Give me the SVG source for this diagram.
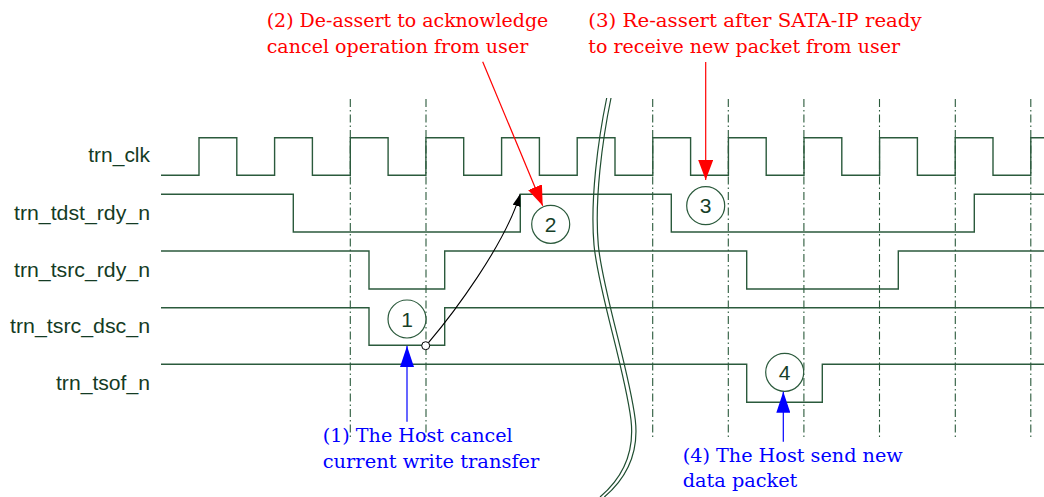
<svg xmlns="http://www.w3.org/2000/svg" width="1044" height="497" viewBox="0 0 1044 497">
<style>
  .bg { fill: #ffffff; }
  .sig { fill: none; stroke: #2b5a3c; stroke-width: 1.4; stroke-linejoin: miter; }
  .grid { fill: none; stroke: #2a5a3b; stroke-width: 1.1; stroke-dasharray: 8 3 1.5 3; }
  .brk { fill: none; stroke: #1f4d30; stroke-width: 1.2; }
  .lbl { font-family: "Liberation Sans", Arial, sans-serif; font-size: 20px; fill: #143b24; text-anchor: end; }
  .num { font-family: "Liberation Sans", Arial, sans-serif; font-size: 21px; fill: #173f28; text-anchor: middle; }
  .mark { fill: #ffffff; stroke: #2b5a3c; stroke-width: 1.2; }
  .red { font-family: "DejaVu Serif", "Liberation Serif", serif; font-size: 19px; fill: #ff0000; }
  .blue { font-family: "DejaVu Serif", "Liberation Serif", serif; font-size: 19px; fill: #0000ff; }
  .rarr { fill: none; stroke: #ff0000; stroke-width: 1.2; }
  .barr { fill: none; stroke: #0000ff; stroke-width: 1.2; }
  .karr { fill: none; stroke: #000000; stroke-width: 1.1; }
</style>
<defs>
  <marker id="ah-red" markerUnits="userSpaceOnUse" viewBox="0 0 20 15" refX="20" refY="7.5" markerWidth="20" markerHeight="15" orient="auto">
    <path d="M0,0 L20,7.5 L0,15 z" fill="#ff0000"/>
  </marker>
  <marker id="ah-blue" markerUnits="userSpaceOnUse" viewBox="0 0 21 14" refX="21" refY="7" markerWidth="21" markerHeight="14" orient="auto">
    <path d="M0,0 L21,7 L0,14 z" fill="#0000ff"/>
  </marker>
  <marker id="ah-black" markerUnits="userSpaceOnUse" viewBox="0 0 12 8" refX="12" refY="4" markerWidth="12" markerHeight="8" orient="auto">
    <path d="M0,0 L12,4 L0,8 z" fill="#000000"/>
  </marker>
</defs>
<rect class="bg" x="0" y="0" width="1044" height="497"/>

<g id="grid">
  <line class="grid" x1="350.3" y1="99" x2="350.3" y2="440"/>
  <line class="grid" x1="426" y1="99" x2="426" y2="440"/>
  <line class="grid" x1="652.7" y1="99" x2="652.7" y2="440"/>
  <line class="grid" x1="728.3" y1="99" x2="728.3" y2="440"/>
  <line class="grid" x1="803.9" y1="99" x2="803.9" y2="440"/>
  <line class="grid" x1="879.5" y1="99" x2="879.5" y2="440"/>
  <line class="grid" x1="955.3" y1="99" x2="955.3" y2="440"/>
  <line class="grid" x1="1030.8" y1="99" x2="1030.8" y2="440"/>
</g>

<g id="trn_clk">
  <text class="lbl" x="150" y="162.3" textLength="61.7" lengthAdjust="spacingAndGlyphs">trn_clk</text>
  <path class="sig" d="M161,175.3 H199 V137.7 H236.8 V175.3 H274.6 V137.7 H312.4 V175.3 H350.3 V137.7 H388.1 V175.3 H425.9 V137.7 H463.7 V175.3 H501.6 V137.7 H539.4 V175.3 H577.2 V137.7 H615 V175.3 H652.8 V137.7 H690.6 V175.3 H728.4 V137.7 H766.2 V175.3 H804 V137.7 H841.8 V175.3 H879.6 V137.7 H917.4 V175.3 H955.2 V137.7 H993 V175.3 H1030.8 V137.7 H1044"/>
</g>

<g id="trn_tdst_rdy_n">
  <text class="lbl" x="150" y="220" textLength="136" lengthAdjust="spacingAndGlyphs">trn_tdst_rdy_n</text>
  <path class="sig" d="M161,194.3 H293.3 V232 H520.3 V194.3 H671.3 V232 H974.3 V194.3 H1044"/>
</g>

<g id="trn_tsrc_rdy_n">
  <text class="lbl" x="150" y="276.7" textLength="136" lengthAdjust="spacingAndGlyphs">trn_tsrc_rdy_n</text>
  <path class="sig" d="M161,251 H369 V289 H444.7 V251 H746.7 V289 H898.3 V251 H1044"/>
</g>

<g id="trn_tsrc_dsc_n">
  <text class="lbl" x="150" y="333.3" textLength="140" lengthAdjust="spacingAndGlyphs">trn_tsrc_dsc_n</text>
  <path class="sig" d="M161,307.7 H369 V345.3 H444.7 V307.7 H1044"/>
</g>

<g id="trn_tsof_n">
  <text class="lbl" x="150" y="390" textLength="94" lengthAdjust="spacingAndGlyphs">trn_tsof_n</text>
  <path class="sig" d="M161,364.3 H746.7 V402.3 H822.3 V364.3 H1044"/>
</g>

<g id="break">
  <path class="brk" d="M606.7,98 C598,140 590,200 594,245 C598,290 625,370 631,420 C635,455 620,480 600,497"/>
  <path class="brk" d="M611,98 C602.3,140 594.3,200 598.3,245 C602.3,290 629.3,370 635.3,420 C639.3,455 624.3,480 604.3,497"/>
</g>

<g id="marker1">
  <circle class="mark" cx="407" cy="319" r="19"/>
  <text class="num" x="407" y="326.5">1</text>
</g>
<g id="marker2">
  <circle class="mark" cx="550.7" cy="224.3" r="19"/>
  <text class="num" x="550.7" y="231.8">2</text>
</g>
<g id="marker3">
  <circle class="mark" cx="705.7" cy="205.7" r="19"/>
  <text class="num" x="705.7" y="213.2">3</text>
</g>
<g id="marker4">
  <circle class="mark" cx="784.7" cy="372.3" r="19"/>
  <text class="num" x="784.7" y="379.8">4</text>
</g>

<g id="note1">
  <text class="blue" x="322.7" y="442.3" textLength="190" lengthAdjust="spacingAndGlyphs">(1) The Host cancel</text>
  <text class="blue" x="322.7" y="468.3" textLength="216.7" lengthAdjust="spacingAndGlyphs">current write transfer</text>
</g>
<g id="note2">
  <text class="red" x="266.7" y="26.7" textLength="281.6" lengthAdjust="spacingAndGlyphs">(2) De-assert to acknowledge</text>
  <text class="red" x="266.7" y="53.3" textLength="261.6" lengthAdjust="spacingAndGlyphs">cancel operation from user</text>
</g>
<g id="note3">
  <text class="red" x="588.3" y="26.7" textLength="333.4" lengthAdjust="spacingAndGlyphs">(3) Re-assert after SATA-IP ready</text>
  <text class="red" x="588.3" y="53.3" textLength="311.7" lengthAdjust="spacingAndGlyphs">to receive new packet from user</text>
</g>
<g id="note4">
  <text class="blue" x="682.7" y="461.7" textLength="220" lengthAdjust="spacingAndGlyphs">(4) The Host send new</text>
  <text class="blue" x="682.7" y="486.7" textLength="114.7" lengthAdjust="spacingAndGlyphs">data packet</text>
</g>

<g id="connectors">
  <line class="barr" x1="407" y1="421.7" x2="407" y2="346" marker-end="url(#ah-blue)"/>
  <line class="barr" x1="783.3" y1="441.7" x2="783.3" y2="391.7" marker-end="url(#ah-blue)"/>
  <line class="rarr" x1="482.7" y1="61.7" x2="542.7" y2="205.7" marker-end="url(#ah-red)"/>
  <line class="rarr" x1="705.7" y1="62" x2="705.7" y2="180" marker-end="url(#ah-red)"/>
  <circle cx="425.7" cy="345.7" r="4" fill="#ffffff" stroke="#000000" stroke-width="1"/>
  <path class="karr" d="M428.5,342.6 C452,315 505,245 520,194.3" marker-end="url(#ah-black)"/>
</g>
</svg>
